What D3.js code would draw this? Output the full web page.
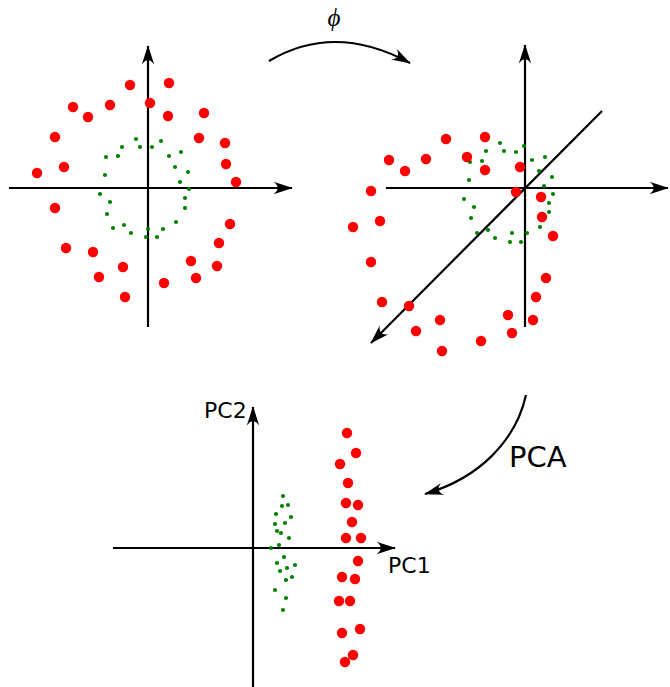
<!DOCTYPE html>
<html>
<head>
<meta charset="utf-8">
<script src="https://cdn.jsdelivr.net/npm/d3@7"></script>
<style>
  html, body { margin: 0; padding: 0; background: #fff; }
  svg { display: block; }
</style>
</head>
<body>
<script>
// Input space: two concentric rings (outer class red, inner class green)
const inputRedX   = [-0.18, 0.21, 0.02, -0.38, -0.75, -0.60, 0.20, 0.56, -0.93, 0.51, 0.77, -0.84, 0.78, -1.11, 0.88, -0.93, 0.82, 0.71, -0.82, -0.55, 0.43, 0.69, -0.25, -0.49, 0.48, 0.16, -0.23];
const inputRedY   = [1.03, 1.05, 0.85, 0.83, 0.81, 0.71, 0.72, 0.75, 0.51, 0.50, 0.45, 0.21, 0.24, 0.15, 0.06, -0.20, -0.36, -0.55, -0.60, -0.64, -0.73, -0.78, -0.79, -0.89, -0.90, -0.95, -1.09];
const inputGreenX = [-0.12, 0.13, -0.26, -0.08, 0.04, 0.33, -0.42, -0.30, 0.21, 0.27, 0.40, -0.43, 0.32, 0.41, -0.48, 0.37, -0.38, 0.37, -0.41, 0.28, -0.24, -0.35, 0.00, 0.15, -0.17, -0.02, 0.09];
const inputGreenY = [0.49, 0.47, 0.41, 0.41, 0.41, 0.36, 0.31, 0.32, 0.32, 0.21, 0.16, 0.13, 0.06, -0.01, -0.06, -0.10, -0.14, -0.20, -0.26, -0.34, -0.37, -0.40, -0.41, -0.41, -0.45, -0.49, -0.49];

// Feature space after the mapping phi (projected onto the page)
const featureRedX   = [-0.79, -0.40, -1.36, -0.99, -0.58, -1.20, -0.40, -0.05, -1.54, -0.09, 0.16, -1.45, 0.17, -1.72, 0.28, -1.54, 0.21, -1.43, -1.16, 0.11, -0.85, -0.17, -1.09, 0.08, -0.13, -0.44, -0.83];
const featureRedY   = [0.49, 0.51, 0.28, 0.29, 0.31, 0.17, 0.18, 0.21, -0.03, -0.04, -0.09, -0.33, -0.29, -0.39, -0.48, -0.74, -0.90, -1.14, -1.18, -1.09, -1.32, -1.27, -1.43, -1.32, -1.45, -1.53, -1.63];
const featureGreenX = [-0.25, -0.01, -0.39, -0.21, -0.09, 0.20, -0.55, -0.43, 0.07, 0.14, 0.27, -0.56, 0.19, 0.28, -0.61, 0.24, -0.51, 0.24, -0.54, 0.15, -0.37, -0.48, -0.13, 0.02, -0.30, -0.15, -0.04];
const featureGreenY = [0.45, 0.42, 0.37, 0.37, 0.36, 0.31, 0.26, 0.27, 0.28, 0.17, 0.11, 0.08, 0.02, -0.06, -0.11, -0.15, -0.19, -0.24, -0.30, -0.39, -0.42, -0.45, -0.45, -0.45, -0.50, -0.54, -0.54];

// Principal component scores
const pcRedX   = [0.94, 1.03, 0.87, 0.95, 0.93, 1.05, 0.99, 0.93, 1.08, 1.05, 0.89, 1.02, 0.86, 0.97, 1.07, 0.89, 1.00, 0.92];
const pcRedY   = [1.15, 0.95, 0.84, 0.65, 0.45, 0.43, 0.26, 0.10, 0.10, -0.13, -0.29, -0.31, -0.53, -0.53, -0.81, -0.85, -1.07, -1.14];
const pcGreenX = [0.30, 0.29, 0.35, 0.23, 0.38, 0.22, 0.32, 0.24, 0.28, 0.36, 0.26, 0.18, 0.31, 0.24, 0.42, 0.34, 0.27, 0.39, 0.33, 0.22, 0.33, 0.30];
const pcGreenY = [0.52, 0.42, 0.43, 0.34, 0.31, 0.24, 0.25, 0.17, 0.15, 0.10, 0.03, 0.00, -0.09, -0.15, -0.17, -0.20, -0.23, -0.29, -0.32, -0.42, -0.50, -0.62];

const axisLabels = { pc1: "PC1", pc2: "PC2", mapping: "\u03D5", method: "PCA" };

const W = 670, H = 687;
const RED = "#ff0000", GREEN = "#008000";

const svg = d3.select("body").append("svg")
  .attr("width", W).attr("height", H)
  .attr("viewBox", `0 0 ${W} ${H}`);

svg.append("rect").attr("width", W).attr("height", H).attr("fill", "#fff");

// Swept-back arrowhead, tip at the path end
const defs = svg.append("defs");
defs.append("marker")
  .attr("id", "arrow")
  .attr("viewBox", "-21 -8 23 16")
  .attr("refX", 0).attr("refY", 0)
  .attr("markerWidth", 23).attr("markerHeight", 16)
  .attr("markerUnits", "userSpaceOnUse")
  .attr("orient", "auto")
  .append("path")
  .attr("d", "M0.8,0 L-18.5,-6.2 Q-10,0 -18.5,6.2 Z")
  .attr("fill", "#000");

function panel(origin, unit) {
  const x = d3.scaleLinear().domain([0, 1]).range([origin[0], origin[0] + unit]);
  const y = d3.scaleLinear().domain([0, 1]).range([origin[1], origin[1] - unit]);
  return { x, y };
}

function axisLine(g, s, from, to) {
  g.append("line")
    .attr("x1", s.x(from[0])).attr("y1", s.y(from[1]))
    .attr("x2", s.x(to[0])).attr("y2", s.y(to[1]))
    .attr("stroke", "#000").attr("stroke-width", 2.2)
    .attr("marker-end", "url(#arrow)");
}

function dots(g, s, xs, ys, r, color) {
  g.selectAll(null).data(xs.map((v, i) => [v, ys[i]])).join("circle")
    .attr("cx", d => s.x(d[0])).attr("cy", d => s.y(d[1]))
    .attr("r", r).attr("fill", color);
}

// Panel 1: input space
const s1 = panel([148, 188], 100);
const g1 = svg.append("g");
axisLine(g1, s1, [-1.39, 0], [1.44, 0]);
axisLine(g1, s1, [0, -1.39], [0, 1.42]);
dots(g1, s1, inputGreenX, inputGreenY, 2.1, GREEN);
dots(g1, s1, inputRedX, inputRedY, 5.2, RED);

// Panel 2: feature space with a third (depth) axis
const s2 = panel([525, 188], 100);
const g2 = svg.append("g");
axisLine(g2, s2, [-1.39, 0], [1.43, 0]);
axisLine(g2, s2, [0, -1.39], [0, 1.43]);
axisLine(g2, s2, [0.77, 0.77], [-1.54, -1.55]);
dots(g2, s2, featureGreenX, featureGreenY, 2.1, GREEN);
dots(g2, s2, featureRedX, featureRedY, 5.2, RED);

// Panel 3: principal components
const s3 = panel([253, 548], 100);
const g3 = svg.append("g");
axisLine(g3, s3, [-1.40, 0], [1.42, 0]);
axisLine(g3, s3, [0, -1.45], [0, 1.41]);
dots(g3, s3, pcGreenX, pcGreenY, 2.1, GREEN);
dots(g3, s3, pcRedX, pcRedY, 5.2, RED);

g3.append("text")
  .attr("x", s3.x(-0.49)).attr("y", s3.y(1.30))
  .attr("font-family", "DejaVu Sans, sans-serif").attr("font-size", 22)
  .text(axisLabels.pc2);
g3.append("text")
  .attr("x", s3.x(1.35)).attr("y", s3.y(-0.25))
  .attr("font-family", "DejaVu Sans, sans-serif").attr("font-size", 22)
  .text(axisLabels.pc1);

// Transition arrows between the panels
const link = d3.path();
link.moveTo(269, 61);
link.quadraticCurveTo(334.5, 22, 410, 63);
svg.append("path").attr("d", link.toString())
  .attr("fill", "none").attr("stroke", "#000").attr("stroke-width", 2.2)
  .attr("marker-end", "url(#arrow)");
svg.append("text")
  .attr("x", 334).attr("y", 26).attr("text-anchor", "middle")
  .attr("font-family", "Liberation Serif, serif").attr("font-style", "italic")
  .attr("font-size", 25)
  .text(axisLabels.mapping);

const link2 = d3.path();
link2.moveTo(526, 395);
link2.bezierCurveTo(516, 440, 480, 478, 425, 494);
svg.append("path").attr("d", link2.toString())
  .attr("fill", "none").attr("stroke", "#000").attr("stroke-width", 2.2)
  .attr("marker-end", "url(#arrow)");
svg.append("text")
  .attr("x", 509).attr("y", 467)
  .attr("font-family", "DejaVu Sans, sans-serif").attr("font-size", 29)
  .text(axisLabels.method);
</script>
</body>
</html>
